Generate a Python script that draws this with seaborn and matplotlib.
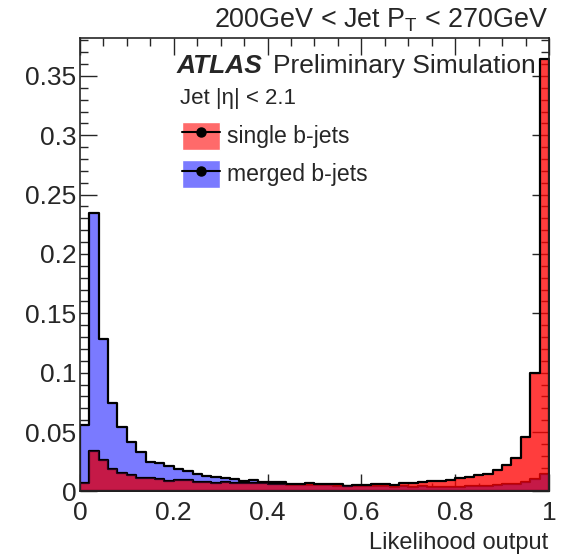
import numpy as np
import pandas as pd
import matplotlib.pyplot as plt
import seaborn as sns
from matplotlib.patches import Patch
from matplotlib.lines import Line2D
from matplotlib.ticker import MultipleLocator

# 50 bins of width 0.02 on the likelihood output
bin_edges = [round(0.02 * i, 2) for i in range(51)]

single_bjets = [
    0.0070, 0.0340, 0.0265, 0.0185, 0.0157, 0.0135, 0.0110, 0.0115, 0.0105, 0.0090,
    0.0095, 0.0092, 0.0078, 0.0075, 0.0072, 0.0075, 0.0070, 0.0068, 0.0070, 0.0068,
    0.0066, 0.0065, 0.0064, 0.0066, 0.0068, 0.0066, 0.0062, 0.0060, 0.0047, 0.0055,
    0.0057, 0.0058, 0.0058, 0.0052, 0.0068, 0.0070, 0.0078, 0.0084, 0.0090, 0.0098,
    0.0115, 0.0125, 0.0138, 0.0150, 0.0178, 0.0225, 0.0285, 0.0455, 0.0995, 0.3640,
]
merged_bjets = [
    0.0560, 0.2345, 0.1280, 0.0745, 0.0545, 0.0420, 0.0330, 0.0250, 0.0240, 0.0210,
    0.0190, 0.0170, 0.0145, 0.0128, 0.0118, 0.0110, 0.0102, 0.0090, 0.0092, 0.0075,
    0.0078, 0.0077, 0.0052, 0.0055, 0.0055, 0.0052, 0.0050, 0.0048, 0.0045, 0.0045,
    0.0043, 0.0042, 0.0042, 0.0040, 0.0042, 0.0040, 0.0042, 0.0040, 0.0038, 0.0038,
    0.0040, 0.0042, 0.0045, 0.0048, 0.0052, 0.0058, 0.0065, 0.0075, 0.0105, 0.0150,
]

edges = np.array(bin_edges)
df = pd.DataFrame({
    'center': (edges[:-1] + edges[1:]) / 2,
    'single': single_bjets,
    'merged': merged_bjets,
})
# where both histograms overlap the fill looks darker (crimson)
df['overlap'] = np.minimum(df['single'], df['merged'])

sns.set_style('ticks')
plt.rcParams['font.family'] = ['Liberation Sans', 'DejaVu Sans']
plt.rcParams['mathtext.fontset'] = 'custom'
plt.rcParams['mathtext.rm'] = 'Liberation Sans'

blue = '#7a7aff'
red = '#ff0000'

fig = plt.figure(figsize=(5.62, 5.58), dpi=100)
ax = fig.add_axes([0.1423, 0.1194, 0.8345, 0.812])

sns.histplot(data=df, x='center', weights='merged', bins=bin_edges, element='step',
             fill=True, color=blue, alpha=1.0, edgecolor='black', linewidth=1.6, ax=ax)
sns.histplot(data=df, x='center', weights='single', bins=bin_edges, element='step',
             fill=True, color=red, alpha=0.76, edgecolor='black', linewidth=1.6, ax=ax)
sns.histplot(data=df, x='center', weights='overlap', bins=bin_edges, element='step',
             fill=True, color='#8c1060', alpha=0.3, edgecolor='none', linewidth=0, ax=ax)

ax.set_xlim(0, 1)
ax.set_ylim(0, 0.3817)
ax.set_xlabel('')
ax.set_ylabel('')
ax.set_axisbelow(True)

ax.xaxis.set_major_locator(MultipleLocator(0.2))
ax.xaxis.set_minor_locator(MultipleLocator(0.05))
ax.yaxis.set_major_locator(MultipleLocator(0.05))
ax.yaxis.set_minor_locator(MultipleLocator(0.01))
ax.xaxis.set_major_formatter(plt.FuncFormatter(lambda v, p: f'{v:g}'))
ax.yaxis.set_major_formatter(plt.FuncFormatter(lambda v, p: f'{v:g}'))
ax.tick_params(which='both', direction='in', top=True, right=True, width=1.0, labelsize=19)
ax.tick_params(which='major', length=12)
ax.tick_params(which='minor', length=6)
ax.tick_params(axis='y', which='major', pad=2.5)
ax.tick_params(axis='x', which='major', pad=7)
for s in ax.spines.values():
    s.set_linewidth(1.2)

fig.text(0.975, 0.027, 'Likelihood output', ha='right', va='center', fontsize=17)
fig.text(0.975, 0.964, r'200GeV < Jet P$_\mathregular{T}$ < 270GeV', ha='right', va='center', fontsize=19.4)

ax.text(0.206, 0.924, 'ATLAS', transform=ax.transAxes, fontsize=19,
        fontweight='bold', fontstyle='italic', va='baseline')
ax.text(0.4115, 0.924, 'Preliminary Simulation', transform=ax.transAxes, fontsize=19, va='baseline')
ax.text(0.213, 0.854, 'Jet |η| < 2.1', transform=ax.transAxes, fontsize=16, va='baseline')

handles = [
    (Patch(facecolor='#ff6a6a'), Line2D([], [], color='black', marker='o', markersize=6.5, lw=1.5)),
    (Patch(facecolor=blue), Line2D([], [], color='black', marker='o', markersize=6.5, lw=1.5)),
]
ax.legend(handles, ['single b-jets', 'merged b-jets'], loc='upper left',
          bbox_to_anchor=(0.2173, 0.816), frameon=False, fontsize=16.6,
          handlelength=1.65, handleheight=1.495, handletextpad=0.3, labelspacing=0.44,
          borderpad=0, borderaxespad=0)

fig.savefig('out.png', dpi=100)
